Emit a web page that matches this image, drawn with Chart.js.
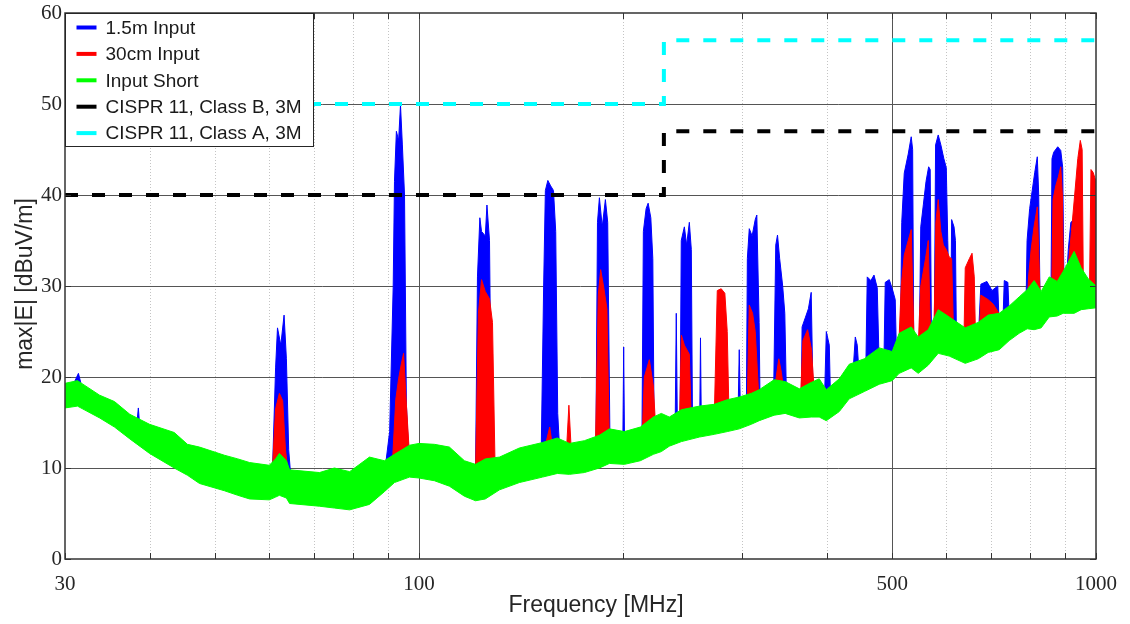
<!DOCTYPE html>
<html>
<head>
<meta charset="utf-8">
<title>Radiated emissions</title>
<script src="https://cdn.jsdelivr.net/npm/chart.js@4.4.1/dist/chart.umd.min.js"></script>
<style>
    html, body { margin: 0; padding: 0; background: #ffffff; }
    #emiChart { display: block; }
</style>
</head>
<body>
<canvas id="emiChart" width="1130" height="624"></canvas>
<script>
// values (MHz / dBuV/m)
// every trace is a noise band: an upper and a lower edge on its own frequency list

// Input Short
var shortFreq = [30, 31.3, 33.75, 35.5, 37.4, 40, 43.5, 45.5, 47.4, 51.6,
    54, 56.2, 60.1, 61.4, 62.2, 63.7, 64.4, 71.3, 75, 79,
    84.5, 88.9, 92, 96.8, 100, 105.4, 110.9, 116.7, 121.2, 125.3,
    131.5, 140.7, 152.2, 160.1, 166.8, 175.5, 184.7, 191.1, 201.1, 212.3,
    221.9, 228, 234.3, 244.1, 259.5, 273, 285.3, 297.2, 309.5, 318.1,
    334.6, 347.4, 364.6, 379.6, 390.1, 399.6, 417.6, 432, 454.7, 478.4,
    500, 512, 533.4, 546.3, 565.2, 584.7, 607, 640.9, 669.9, 693.1,
    719.6, 744.3, 770, 791.3, 810.3, 829.9, 853, 876.3, 894.3, 928.4,
    950.8, 973.7, 1000];
var shortHi = [19.3, 19.6, 18.0, 17.3, 15.9, 14.8, 13.9, 12.6, 12.3, 11.4,
    11.0, 10.6, 10.3, 11.0, 11.6, 10.8, 9.8, 9.5, 10.0, 9.6,
    11.2, 10.8, 11.5, 12.5, 12.7, 12.6, 12.3, 10.8, 10.4, 11.0,
    11.2, 12.2, 12.8, 13.3, 12.7, 13.0, 13.6, 14.3, 14.0, 14.5,
    15.6, 16.0, 15.6, 16.4, 16.8, 17.0, 17.5, 17.8, 18.2, 18.6,
    19.7, 19.5, 18.7, 19.4, 19.8, 18.6, 19.8, 21.4, 22.0, 23.2,
    22.8, 24.8, 25.5, 24.4, 25.2, 27.4, 26.6, 25.4, 26.0, 26.8,
    27.0, 27.8, 28.8, 29.6, 30.6, 29.4, 31.0, 30.5, 31.6, 33.8,
    32.0, 30.8, 30.0];
var shortLo = [16.6, 16.8, 15.5, 14.5, 13.2, 11.6, 10.0, 9.2, 8.3, 7.5,
    7.0, 6.6, 6.5, 6.8, 7.0, 6.7, 6.1, 5.8, 5.6, 5.4,
    6.0, 7.4, 8.4, 9.0, 8.9, 8.6, 8.0, 6.9, 6.4, 6.6,
    7.6, 8.4, 9.0, 9.4, 9.3, 9.5, 10.0, 10.5, 10.4, 10.8,
    11.5, 11.8, 12.4, 12.9, 13.4, 13.7, 14.0, 14.3, 14.8, 15.2,
    15.8, 16.0, 15.5, 15.6, 15.6, 15.2, 16.2, 17.6, 18.4, 19.2,
    19.6, 20.4, 21.0, 20.4, 21.3, 22.6, 22.3, 21.5, 22.0, 22.7,
    23.0, 24.0, 24.8, 25.3, 25.2, 25.4, 26.6, 26.7, 27.0, 27.0,
    27.4, 27.5, 27.6];

// 30cm Input
var cm30Freq = [30, 33.75, 37.4, 40, 43.5, 47.4, 51.6, 56.2, 60.1, 60.8,
    61.4, 62.2, 62.9, 63.5, 64.4, 71.3, 79, 84.5, 88.9, 91.5,
    92.4, 93.3, 94.2, 94.9, 95.8, 96.8, 100, 110.9, 116.7, 121.2,
    122.4, 123.7, 125.3, 127.1, 128.4, 129.5, 140.7, 152.2, 156, 158,
    165, 166.5, 168, 182.2, 184, 185.5, 187.3, 189.5, 191.1, 201.1,
    212.3, 214, 215.2, 218.9, 221.9, 224, 228, 242.5, 244.1, 246.6,
    250.8, 252.5, 259.5, 273, 275.8, 279.5, 283, 285.3, 287, 297.2,
    305.3, 307.5, 311, 313.8, 318, 334, 337, 340, 343, 347,
    364.6, 366, 369, 375, 380, 384, 399.6, 432, 454.7, 478.4,
    500, 510, 512, 515.6, 520.9, 528, 533.4, 536, 538.9, 546,
    548, 551, 560, 565.2, 568, 571, 576, 578, 580, 584.7,
    590, 595, 601, 607, 612, 616, 638, 641, 650, 656,
    661, 664, 672, 676, 693, 705, 719, 722, 744, 770,
    791, 795, 802, 810, 819, 826, 830, 853, 860, 864,
    872, 880, 887, 892, 896, 905, 912, 920, 930, 940,
    948, 954, 958, 973.7, 978, 983, 990, 1000];
var cm30Hi = [18.2, 16.8, 14.6, 13.3, 12.2, 10.4, 9.6, 8.8, 8.6, 10.5,
    16.5, 18.2, 17.4, 12, 8.2, 7.8, 7.7, 8.2, 9.3, 11.5,
    17.5, 19.8, 21.5, 22.6, 17, 11.5, 11, 10.4, 9.2, 9.5,
    27, 30.7, 29.4, 28.6, 26, 10.5, 10.5, 11.2, 14.5, 11.5,
    11.4, 16.9, 11.4, 12, 29, 31.8, 30, 27.5, 12.3, 12.4,
    12.8, 15, 20, 21.9, 19, 13.5, 14, 14.7, 24.6, 23.5,
    22.5, 15, 15.2, 15.6, 29.5, 29.7, 29.2, 25, 16, 16.2,
    16.8, 27.9, 27, 25, 17.2, 17.8, 20, 22, 20.5, 17.6,
    17.2, 17.5, 24, 25.2, 23, 17.8, 17, 19.6, 20.3, 21.3,
    21.4, 22.5, 24.5, 30, 33.4, 35, 36.2, 30, 23.3, 22.5,
    26, 30, 33, 35, 28, 23.5, 24.5, 30, 37, 39.5,
    36, 34.5, 34, 33.2, 33, 24.8, 23.6, 32, 33, 33.6,
    31, 23.8, 24.2, 29, 28.5, 28, 27, 25, 25.9, 26.8,
    27.4, 31, 34, 36.5, 38.7, 30, 27.4, 28.8, 28.8, 39.5,
    41, 42, 43.1, 40, 29.3, 29.8, 33, 36, 40, 44,
    46, 45, 29.5, 29.2, 29.2, 42.8, 42.5, 41.5];
var cm30Lo = [17.4, 16.3, 14.0, 12.4, 10.8, 9.1, 8.3, 7.4, 7.3, 7.5,
    7.6, 7.7, 7.6, 7.3, 6.9, 6.6, 6.2, 6.8, 8.2, 8.9,
    9.2, 9.4, 9.5, 9.6, 9.8, 9.8, 9.7, 8.8, 7.7, 7.2,
    7.3, 7.3, 7.4, 7.6, 7.8, 8.0, 9.2, 9.8, 10.1, 10.1,
    10.1, 10.1, 10.2, 10.7, 10.8, 10.9, 11.0, 11.1, 11.3, 11.2,
    11.6, 11.7, 11.8, 12.1, 12.3, 12.4, 12.6, 13.6, 13.7, 13.8,
    14.0, 14.1, 14.2, 14.5, 14.6, 14.7, 14.8, 14.8, 14.9, 15.1,
    15.4, 15.5, 15.6, 15.8, 16.0, 16.6, 16.6, 16.7, 16.8, 16.8,
    16.3, 16.3, 16.4, 16.4, 16.4, 16.3, 16.0, 18.4, 19.2, 20.0,
    20.4, 21.0, 21.2, 21.4, 21.5, 21.7, 21.8, 21.6, 21.4, 21.2,
    21.3, 21.4, 21.9, 22.1, 22.3, 22.5, 23.0, 23.1, 23.2, 23.4,
    23.3, 23.2, 23.1, 23.1, 23.0, 22.8, 22.4, 22.4, 22.6, 22.7,
    22.8, 22.8, 22.9, 23.0, 23.5, 23.7, 23.8, 23.9, 24.8, 25.6,
    26.1, 26.1, 26.1, 26.0, 26.1, 26.2, 26.2, 27.4, 27.4, 27.5,
    27.5, 27.6, 27.7, 27.8, 27.8, 27.8, 27.8, 27.8, 27.8, 28.0,
    28.1, 28.2, 28.2, 28.3, 28.3, 28.4, 28.4, 28.4];

// 1.5m Input
var m15Freq = [30, 31.0, 31.4, 31.8, 33.75, 37.4, 38.3, 38.5, 38.7, 40,
    43.5, 47.4, 51.6, 56.2, 60.1, 60.8, 61.4, 61.8, 62.5, 63.2,
    63.7, 64.2, 64.8, 71.3, 79, 84.5, 88.9, 90.5, 91.6, 92.0,
    92.6, 93.3, 93.9, 94.5, 95.2, 95.8, 96.5, 100, 110.9, 116.7,
    121.2, 122.0, 123.0, 123.7, 125.3, 126.0, 127.1, 128.0, 131.5, 140.7,
    151.5, 152.8, 153.7, 155, 156.5, 158, 159.2, 160.3, 161.5, 182.5,
    183.5, 184.7, 186.5, 188.5, 190, 191.5, 200, 200.6, 201.2, 212.3,
    213.5, 214.5, 216.5, 218, 220, 221.5, 222.5, 228, 239, 239.9,
    240.8, 243, 244, 246.6, 248.5, 250.8, 252.5, 253.5, 259.8, 260.5,
    261.2, 273, 296, 297.2, 298.4, 304.5, 305.5, 307.5, 310.5, 313.8,
    315.5, 318, 319, 334, 336.5, 338.5, 341, 344.5, 347, 349,
    364.6, 367, 368, 372, 376, 379.6, 382, 397, 399.6, 403.7,
    405.5, 432, 437, 441, 444, 447, 457, 459.3, 465, 470,
    475.2, 478.4, 486, 488.3, 495, 501, 505.2, 507.5, 514, 516.5,
    520.9, 528, 533.4, 536, 538, 548, 551, 556, 561, 566,
    569, 571.5, 577, 579.5, 584.7, 590, 596, 601, 604, 607,
    610, 612, 617, 620, 622, 669.9, 676, 690, 702, 716,
    720, 728, 732, 741, 745, 788, 791, 798, 805, 812,
    819, 823, 827, 853, 858, 861, 866, 878, 887, 893,
    897, 903, 910, 918, 928, 935, 940, 973.7, 990, 997,
    1000];
var m15Hi = [18.5, 19.5, 20.4, 18.8, 16.8, 14.6, 14.8, 16.6, 14.4, 13.3,
    12.2, 10.4, 9.6, 8.8, 8.6, 10.5, 21, 25.4, 23.5, 26.8,
    22, 12, 8.2, 7.8, 7.7, 8.2, 9.3, 14, 30, 41.5,
    47, 46, 49.9, 45.5, 40, 17, 12, 11, 10.4, 9.2,
    9.5, 31, 37.5, 36, 35.5, 38.9, 35, 12, 9.6, 10.5,
    11.2, 30, 40.5, 41.6, 41, 40.5, 36, 16, 11.4, 12,
    37, 39.7, 36.5, 39.5, 37, 12.3, 12.3, 23.3, 12.3, 12.8,
    14, 36, 38.5, 39.1, 37.5, 33, 14, 14, 14.5, 27,
    14.5, 14.6, 35, 36.5, 34.5, 37, 34, 15, 15.1, 24.3,
    15.1, 15.4, 16, 23, 16, 16.5, 33, 36.3, 35.5, 37.3,
    37.8, 26, 17, 17.6, 34.5, 35.6, 33, 30, 27, 17.5,
    17.1, 17.3, 25.5, 26.5, 27.5, 29.3, 17.8, 17, 25, 23.5,
    17, 19.5, 19.8, 24.4, 23.5, 20, 20.4, 31, 30.6, 31.2,
    29.8, 21.2, 21.2, 30.4, 30.7, 29.5, 28.5, 22, 22.8, 37,
    42.4, 44.5, 46.4, 45, 23.2, 22.5, 36.5, 39, 41.5, 43.1,
    42.8, 23.5, 24.8, 45.5, 46.6, 45.5, 44, 43, 35, 29,
    25, 37.3, 36.5, 35, 24.5, 24, 30.2, 30.5, 29.5, 30,
    25, 25.2, 30.6, 30.4, 25.9, 27.3, 35, 38.5, 40.5, 42.5,
    44.2, 40, 27.4, 28.8, 28.8, 44, 44.7, 45.3, 44.9, 43,
    29.3, 29.5, 34, 37, 37.3, 35, 30, 29.2, 29, 40,
    39];
var m15Lo = [17.4, 17.4, 17.3, 17.2, 16.3, 14.0, 13.4, 13.3, 13.2, 12.4,
    10.8, 9.1, 8.3, 7.4, 7.3, 7.5, 7.6, 7.7, 7.8, 7.6,
    7.3, 7.0, 6.9, 6.6, 6.2, 6.8, 8.2, 8.7, 9.0, 9.2,
    9.3, 9.4, 9.5, 9.6, 9.7, 9.8, 9.8, 9.7, 8.8, 7.7,
    7.2, 7.2, 7.3, 7.3, 7.4, 7.5, 7.6, 7.8, 8.4, 9.2,
    9.8, 9.8, 9.9, 10.0, 10.1, 10.1, 10.2, 10.2, 10.2, 10.7,
    10.8, 10.8, 11.0, 11.1, 11.2, 11.3, 11.2, 11.2, 11.2, 11.6,
    11.7, 11.8, 12.0, 12.1, 12.2, 12.3, 12.3, 12.6, 13.4, 13.4,
    13.5, 13.6, 13.7, 13.8, 13.9, 14.0, 14.1, 14.1, 14.2, 14.2,
    14.2, 14.5, 15.1, 15.1, 15.1, 15.3, 15.4, 15.5, 15.6, 15.8,
    15.9, 16.0, 16.0, 16.6, 16.6, 16.7, 16.7, 16.8, 16.8, 16.7,
    16.3, 16.3, 16.3, 16.4, 16.4, 16.4, 16.3, 16.0, 16.0, 16.3,
    16.5, 18.4, 18.6, 18.8, 18.9, 19.0, 19.3, 19.4, 19.6, 19.8,
    20.0, 20.0, 20.2, 20.3, 20.4, 20.4, 20.8, 21.0, 21.3, 21.4,
    21.5, 21.7, 21.8, 21.6, 21.4, 21.3, 21.4, 21.7, 22.0, 22.1,
    22.3, 22.5, 23.0, 23.2, 23.4, 23.3, 23.2, 23.1, 23.1, 23.1,
    23.0, 23.0, 22.8, 22.7, 22.6, 22.8, 23.0, 23.4, 23.6, 23.8,
    23.8, 24.2, 24.4, 24.7, 24.8, 26.0, 26.1, 26.1, 26.0, 26.0,
    26.1, 26.1, 26.2, 27.4, 27.4, 27.5, 27.5, 27.6, 27.7, 27.8,
    27.8, 27.8, 27.8, 27.8, 27.8, 27.9, 28.0, 28.3, 28.4, 28.4,
    28.4];

// CISPR 11 limits, 3 m
var limitFreq = [30, 230, 230, 1000];
var classBLevel = [40, 40, 47, 47];
var classALevel = [50, 50, 57, 57];

var xTicks = [30, 40, 50, 60, 70, 80, 90, 100, 200, 300, 400, 500, 600, 700, 800, 900, 1000];
var xLabelled = [30, 100, 500, 1000];
var xSolidGrid = [100, 500];
var yTicks = [0, 10, 20, 30, 40, 50, 60];

var xTitle = 'Frequency [MHz]';
var yTitle = 'max|E| [dBuV/m]';

var serifFont = '"Liberation Serif", "Times New Roman", serif';
var sansFont = '"Liberation Sans", Arial, sans-serif';

function pts(xs, ys) {
    return xs.map(function (x, i) { return { x: x, y: ys[i] }; });
}

// closed outline of a band: upper edge left to right, lower edge back
function bandShape(xs, hi, lo) {
    return pts(xs, hi).concat(pts(xs, lo).reverse());
}

function band(color) {
    return {
        borderColor: color,
        backgroundColor: color,
        borderWidth: 1,
        pointRadius: 0,
        tension: 0,
        fill: 'shape'
    };
}

function limit(color) {
    return {
        borderColor: color,
        backgroundColor: color,
        borderWidth: 4,
        borderDash: [13, 14],
        borderCapStyle: 'butt',
        pointRadius: 0,
        fill: false,
        tension: 0
    };
}

// grid, frame, legend box and axis titles
var emiDecor = {
    id: 'emiDecor',
    beforeDatasetsDraw: function (chart) {
        var ctx = chart.ctx, a = chart.chartArea;
        var sx = chart.scales.x, sy = chart.scales.y;
        ctx.save();
        ctx.lineWidth = 1;
        ctx.strokeStyle = '#c4c4c4';
        ctx.setLineDash([1, 2]);
        xTicks.forEach(function (v) {
            if (xSolidGrid.indexOf(v) >= 0 || v === 30 || v === 1000) return;
            var px = Math.round(sx.getPixelForValue(v)) + 0.5;
            ctx.beginPath(); ctx.moveTo(px, a.top); ctx.lineTo(px, a.bottom); ctx.stroke();
        });
        ctx.setLineDash([]);
        ctx.strokeStyle = '#555555';
        xSolidGrid.forEach(function (v) {
            var px = Math.round(sx.getPixelForValue(v)) + 0.5;
            ctx.beginPath(); ctx.moveTo(px, a.top); ctx.lineTo(px, a.bottom); ctx.stroke();
        });
        yTicks.forEach(function (v) {
            if (v === 0 || v === 60) return;
            var py = Math.round(sy.getPixelForValue(v)) + 0.5;
            ctx.beginPath(); ctx.moveTo(a.left, py); ctx.lineTo(a.right, py); ctx.stroke();
        });
        ctx.restore();
    },
    afterDraw: function (chart) {
        var ctx = chart.ctx, a = chart.chartArea;
        var sx = chart.scales.x, sy = chart.scales.y;
        ctx.save();

        // frame and inward ticks
        ctx.strokeStyle = '#333333';
        ctx.lineWidth = 1.5;
        ctx.strokeRect(a.left, a.top, a.right - a.left, a.bottom - a.top);
        ctx.lineWidth = 1;
        xTicks.forEach(function (v) {
            var px = Math.round(sx.getPixelForValue(v)) + 0.5;
            ctx.beginPath();
            ctx.moveTo(px, a.bottom); ctx.lineTo(px, a.bottom - 6);
            ctx.moveTo(px, a.top); ctx.lineTo(px, a.top + 6);
            ctx.stroke();
        });
        yTicks.forEach(function (v) {
            var py = Math.round(sy.getPixelForValue(v)) + 0.5;
            ctx.beginPath();
            ctx.moveTo(a.left, py); ctx.lineTo(a.left + 6, py);
            ctx.moveTo(a.right, py); ctx.lineTo(a.right - 6, py);
            ctx.stroke();
        });

        // legend box, top left inside the plot
        var items = chart.data.datasets.filter(function (d) { return d.label; });
        var bx = Math.round(a.left) + 0.5, by = Math.round(a.top) + 0.5;
        ctx.fillStyle = '#ffffff';
        ctx.fillRect(bx, by, 248, 133);
        ctx.strokeStyle = '#262626';
        ctx.strokeRect(bx, by, 248, 133);
        ctx.font = '19px ' + sansFont;
        ctx.textBaseline = 'middle';
        ctx.textAlign = 'left';
        items.forEach(function (d, i) {
            var iy = by + 14 + i * 26.4;
            ctx.strokeStyle = d.borderColor;
            ctx.lineWidth = 4;
            ctx.beginPath(); ctx.moveTo(bx + 11, iy); ctx.lineTo(bx + 31, iy); ctx.stroke();
            ctx.fillStyle = '#1a1a1a';
            ctx.fillText(d.label, bx + 40, iy + 1);
        });

        // axis titles
        ctx.fillStyle = '#262626';
        ctx.font = '23px ' + sansFont;
        ctx.textAlign = 'center';
        ctx.fillText(xTitle, 596, 606);
        ctx.translate(26, 284);
        ctx.rotate(-Math.PI / 2);
        ctx.fillText(yTitle, 0, 0);
        ctx.restore();
    }
};

var ctx = document.getElementById('emiChart').getContext('2d');

var emiChart = new Chart(ctx, {
    type: 'line',
    data: {
        datasets: [
            Object.assign({ label: '1.5m Input', data: bandShape(m15Freq, m15Hi, m15Lo), order: 5 }, band('#0000ff')),
            Object.assign({ label: '30cm Input', data: bandShape(cm30Freq, cm30Hi, cm30Lo), order: 4 }, band('#ff0000')),
            Object.assign({ label: 'Input Short', data: bandShape(shortFreq, shortHi, shortLo), order: 2 }, band('#00ff00')),
            Object.assign({ label: 'CISPR 11, Class B, 3M', data: pts(limitFreq, classBLevel), order: 1 }, limit('#000000')),
            Object.assign({ label: 'CISPR 11, Class A, 3M', data: pts(limitFreq, classALevel), order: 0 }, limit('#00ffff'))
        ]
    },
    options: {
        responsive: false,
        animation: false,
        devicePixelRatio: 1,
        events: [],
        layout: { padding: { top: 13, right: 34, bottom: 0, left: 0 } },
        plugins: {
            legend: { display: false },
            tooltip: { enabled: false },
            filler: { drawTime: 'beforeDatasetDraw' }
        },
        scales: {
            x: {
                type: 'logarithmic',
                min: 30,
                max: 1000,
                afterBuildTicks: function (s) {
                    s.ticks = xTicks.map(function (v) { return { value: v }; });
                },
                afterFit: function (s) {
                    s.height = 65;
                    s.paddingLeft = 0;
                    s.paddingRight = 0;
                },
                grid: { display: false, drawTicks: false },
                border: { display: false },
                ticks: {
                    autoSkip: false,
                    maxRotation: 0,
                    padding: 13,
                    color: '#262626',
                    font: { family: serifFont, size: 21 },
                    callback: function (v) {
                        return xLabelled.indexOf(v) >= 0 ? String(v) : '';
                    }
                }
            },
            y: {
                type: 'linear',
                min: 0,
                max: 60,
                afterBuildTicks: function (s) {
                    s.ticks = yTicks.map(function (v) { return { value: v }; });
                },
                afterFit: function (s) {
                    s.width = 65;
                    s.paddingTop = 0;
                    s.paddingBottom = 0;
                },
                grid: { display: false, drawTicks: false },
                border: { display: false },
                ticks: {
                    padding: 3,
                    color: '#262626',
                    font: { family: serifFont, size: 21 }
                }
            }
        }
    },
    plugins: [emiDecor]
});
</script>
</body>
</html>
